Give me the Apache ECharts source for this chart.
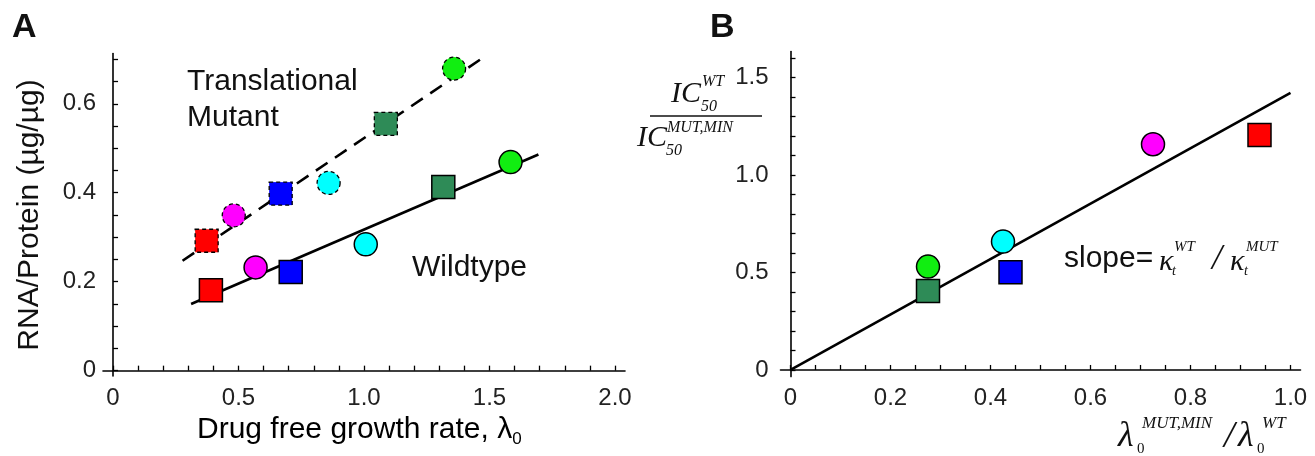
<!DOCTYPE html>
<html>
<head>
<meta charset="utf-8">
<script src="https://cdn.jsdelivr.net/npm/echarts@6/dist/echarts.min.js"></script>
<style>
  html, body { margin: 0; padding: 0; background: #fff; }
  #chart { width: 1315px; height: 456px; }
</style>
</head>
<body>
<div id="chart"></div>
<script>
// strain order: red, magenta, blue, cyan, seagreen, green
var strainColors = ['#ff0000', '#ff00ff', '#0000ff', '#00ffff', '#2e8b57', '#11ee11'];
var strainShapes = ['rect', 'circle', 'rect', 'circle', 'rect', 'circle'];

// panel A: RNA/protein vs drug free growth rate
var mutantGrowth = [0.373, 0.481, 0.668, 0.859, 1.087, 1.359];
var mutantRNA = [0.292, 0.349, 0.398, 0.422, 0.555, 0.679];
var wildGrowth = [0.39, 0.568, 0.708, 1.007, 1.316, 1.584];
var wildRNA = [0.181, 0.232, 0.222, 0.284, 0.413, 0.469];
var mutantFitX = [0.277, 1.462];
var mutantFitY = [0.247, 0.699];
var wildFitX = [0.311, 1.695];
var wildFitY = [0.15, 0.486];

// panel B: IC50 ratio vs growth ratio
var growthRatio = [0.938, 0.725, 0.44, 0.425, 0.275, 0.275];
var ic50Ratio = [1.205, 1.157, 0.501, 0.658, 0.405, 0.53];
var ratioFitX = [0, 1.0];
var ratioFitY = [0, 1.42];

// ticks and labels
var xTicksA = [0, 0.1, 0.2, 0.3, 0.4, 0.5, 0.6, 0.7, 0.8, 0.9, 1.0, 1.1, 1.2, 1.3, 1.4, 1.5, 1.6, 1.7, 1.8, 1.9, 2.0];
var xLabelsA = [0, 0.5, 1.0, 1.5, 2.0];
var yTicksA = [0, 0.05, 0.1, 0.15, 0.2, 0.25, 0.3, 0.35, 0.4, 0.45, 0.5, 0.55, 0.6, 0.65, 0.7];
var yLabelsA = [0, 0.2, 0.4, 0.6];
var xTicksB = [0, 0.05, 0.1, 0.15, 0.2, 0.25, 0.3, 0.35, 0.4, 0.45, 0.5, 0.55, 0.6, 0.65, 0.7, 0.75, 0.8, 0.85, 0.9, 0.95, 1.0];
var xLabelsB = [0, 0.2, 0.4, 0.6, 0.8, 1.0];
var yTicksB = [0, 0.1, 0.2, 0.3, 0.4, 0.5, 0.6, 0.7, 0.8, 0.9, 1.0, 1.1, 1.2, 1.3, 1.4, 1.5, 1.6];
var yLabelsB = [0, 0.5, 1.0, 1.5];

var sans = '"Liberation Sans", Arial, sans-serif';
var serif = '"Liberation Serif", "Times New Roman", serif';

function fmt(v) {
    return v === 0 ? '0' : v.toFixed(1);
}

function axis(grid, min, max, ticks, labels, margin) {
    return {
        type: 'value',
        gridIndex: grid,
        min: min,
        max: max,
        axisLine: { onZero: true, lineStyle: { color: '#000', width: 1.6 } },
        axisTick: { inside: true, length: 5, customValues: ticks, lineStyle: { color: '#000', width: 1.3 } },
        axisLabel: {
            customValues: labels,
            formatter: fmt,
            fontFamily: sans,
            fontSize: 24,
            color: '#222',
            margin: margin
        },
        splitLine: { show: false }
    };
}

function points(xs, ys, dashed) {
    return xs.map(function (x, i) {
        return {
            value: [x, ys[i]],
            symbol: strainShapes[i],
            itemStyle: {
                color: strainColors[i],
                opacity: 1,
                borderColor: '#000',
                borderWidth: dashed ? 1.3 : 1.5,
                borderType: dashed ? [4, 3] : 'solid'
            }
        };
    });
}

function pairs(xs, ys) {
    return xs.map(function (x, i) { return [x, ys[i]]; });
}

function fitLine(idx, xs, ys, dash) {
    return {
        type: 'line',
        xAxisIndex: idx,
        yAxisIndex: idx,
        data: pairs(xs, ys),
        symbol: 'none',
        z: 1,
        lineStyle: { color: '#000', width: 2.6, type: dash || 'solid' }
    };
}

function txt(x, y, s, font, extra) {
    var st = { x: x, y: y, text: s, font: font, fill: '#111', textAlign: 'left', textVerticalAlign: 'middle' };
    if (extra) for (var k in extra) st[k] = extra[k];
    return { type: 'text', style: st };
}

var chart = echarts.init(document.getElementById('chart'));

var option = {
    animation: false,
    grid: [
        { left: 103, top: 53.5, width: 522, height: 322.5 },
        { left: 780.5, top: 51.6, width: 520, height: 325 }
    ],
    xAxis: [
        axis(0, -0.04, 2.04, xTicksA, xLabelsA, 10),
        axis(1, -0.02, 1.02, xTicksB, xLabelsB, 10)
    ],
    yAxis: [
        axis(0, -0.012, 0.713, yTicksA, yLabelsA, 7),
        axis(1, -0.034, 1.632, yTicksB, yLabelsB, 12)
    ],
    series: [
        fitLine(0, mutantFitX, mutantFitY, [14, 9]),
        fitLine(0, wildFitX, wildFitY),
        fitLine(1, ratioFitX, ratioFitY),
        {
            type: 'scatter', xAxisIndex: 0, yAxisIndex: 0, symbolSize: 23, z: 3,
            data: points(mutantGrowth, mutantRNA, true)
        },
        {
            type: 'scatter', xAxisIndex: 0, yAxisIndex: 0, symbolSize: 23, z: 3,
            data: points(wildGrowth, wildRNA, false)
        },
        {
            type: 'scatter', xAxisIndex: 1, yAxisIndex: 1, symbolSize: 23, z: 3,
            data: points(growthRatio, ic50Ratio, false)
        }
    ],
    graphic: [
        // panel letters
        txt(12, 28, 'A', 'bold 34px ' + sans),
        txt(710, 28, 'B', 'bold 34px ' + sans),
        // panel A annotations
        txt(187, 82, 'Translational', '30px ' + sans),
        txt(187, 118, 'Mutant', '30px ' + sans),
        txt(412, 268, 'Wildtype', '30px ' + sans),
        // panel A axis titles
        {
            type: 'text',
            style: {
                x: 197, y: 430, textAlign: 'left', textVerticalAlign: 'middle',
                text: '{m|Drug free growth rate, λ}{s|0}',
                rich: {
                    m: { fontFamily: sans, fontSize: 30, lineHeight: 36, verticalAlign: 'middle', color: '#111' },
                    s: { fontFamily: sans, fontSize: 17, lineHeight: 17, verticalAlign: 'bottom', color: '#111' }
                }
            }
        },
        {
            type: 'text',
            x: 30, y: 215, rotation: Math.PI / 2,
            style: {
                x: 0, y: 0, text: 'RNA/Protein (µg/µg)', font: '30px ' + sans,
                fill: '#111', textAlign: 'center', textVerticalAlign: 'middle'
            }
        },
        // panel B y title: IC50 fraction
        txt(671, 94, 'IC', 'italic 30px ' + serif),
        txt(702, 82, 'WT', 'italic 16px ' + serif),
        txt(701, 107, '50', 'italic 16px ' + serif),
        {
            type: 'line',
            shape: { x1: 650, y1: 116, x2: 762, y2: 116 },
            style: { stroke: '#111', lineWidth: 1.5 }
        },
        txt(637, 138, 'IC', 'italic 30px ' + serif),
        txt(667, 128, 'MUT,MIN', 'italic 16px ' + serif),
        txt(666, 151, '50', 'italic 16px ' + serif),
        // panel B x title
        txt(1118, 437, 'λ', 'italic 36px ' + serif),
        txt(1142, 424, 'MUT,MIN', 'italic 17px ' + serif),
        txt(1137, 449, '0', '15px ' + serif),
        txt(1224, 437, '/', 'italic 38px ' + serif),
        txt(1238, 437, 'λ', 'italic 36px ' + serif),
        txt(1262, 424, 'WT', 'italic 17px ' + serif),
        txt(1257, 449, '0', '15px ' + serif),
        // slope annotation
        txt(1064, 259, 'slope=', '30px ' + sans),
        txt(1159, 262, 'κ', 'italic 30px ' + serif),
        txt(1174, 247, 'WT', 'italic 15px ' + serif),
        txt(1172, 271, 't', 'italic 14px ' + serif),
        txt(1212, 260, '/', 'italic 36px ' + serif),
        txt(1230, 262, 'κ', 'italic 30px ' + serif),
        txt(1246, 247, 'MUT', 'italic 15px ' + serif),
        txt(1244, 271, 't', 'italic 14px ' + serif)
    ]
};

chart.setOption(option);
</script>
</body>
</html>
